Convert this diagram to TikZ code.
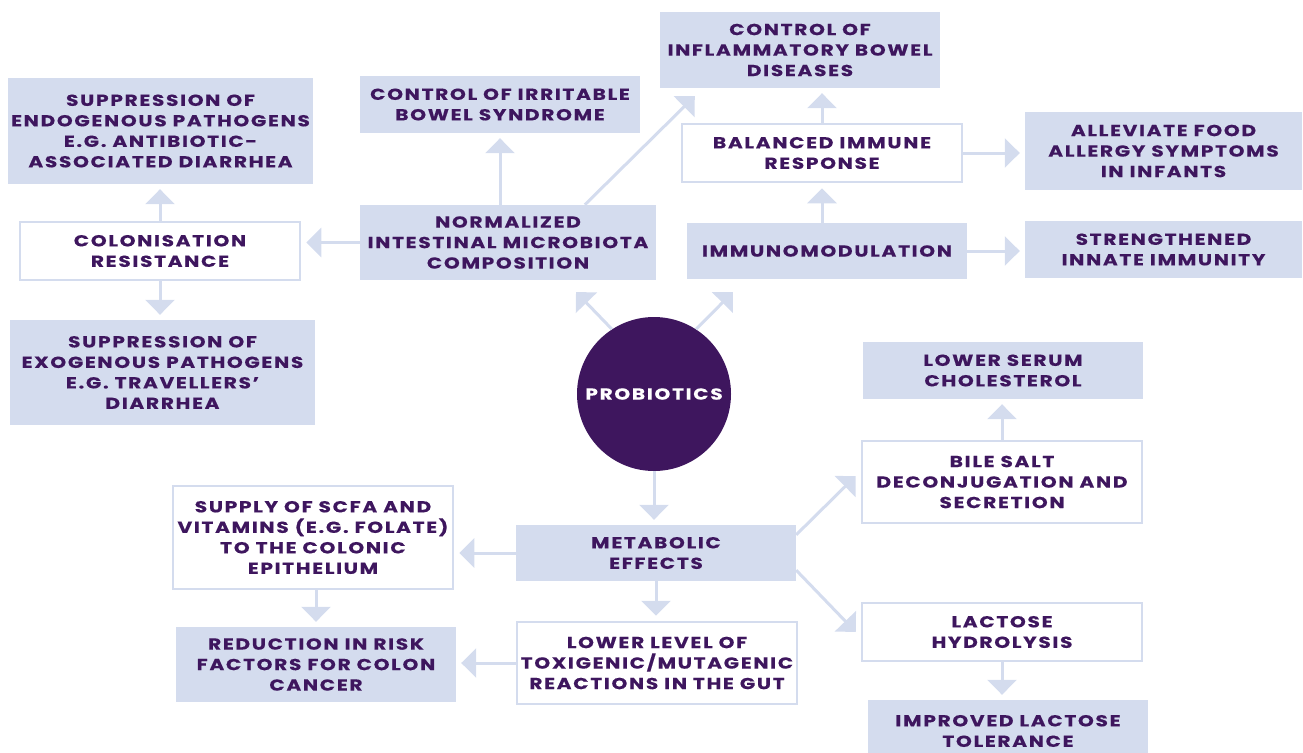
\documentclass[tikz,border=0pt]{standalone}
\usepackage{fontspec}
\setmainfont{Poppins}[LetterSpace=10.5, FakeStretch=1.26, BoldFeatures={FakeBold=0.3}]
\usetikzlibrary{positioning}
\usetikzlibrary{arrows.meta}
\usetikzlibrary{calc}
\definecolor{boxfill}{RGB}{212,220,238}
\definecolor{ink}{RGB}{62,22,94}

\begin{document}
\begin{tikzpicture}[x=1pt,y=-1pt,
    label/.style={text=ink, align=center, inner sep=0pt,
      font=\bfseries\fontsize{16}{20.5}\selectfont},
    filled/.style={label, fill=boxfill},
    open/.style={label, draw=boxfill, line width=2.5pt, fill=white},
    arr/.style={draw=boxfill, line width=3pt,
      -{Triangle[width=29pt,length=15pt]}, shorten >=5pt},
    diag/.style={arr, shorten >=0pt}]
    \useasboundingbox (0,0) rectangle (1303,752);

    % Define the boxes
    \node[filled, minimum width=305pt, minimum height=106pt] (supendo) at (160.5,131)
      {SUPPRESSION OF\\ENDOGENOUS PATHOGENS\\E.G. ANTIBIOTIC-\\ASSOCIATED DIARRHEA};
    \node[open, minimum width=280pt, minimum height=58pt] (colres) at (160,251)
      {COLONISATION\\RESISTANCE};
    \node[filled, minimum width=305pt, minimum height=105pt] (supexo) at (162.5,372.5)
      {SUPPRESSION OF\\EXOGENOUS PATHOGENS\\E.G. TRAVELLERS'\\DIARRHEA};
    \node[filled, minimum width=280pt, minimum height=57pt] (ibs) at (500,104.5)
      {CONTROL OF IRRITABLE\\BOWEL SYNDROME};
    \node[filled, minimum width=296pt, minimum height=75pt] (norm) at (508,242.5)
      {NORMALIZED\\INTESTINAL MICROBIOTA\\COMPOSITION};
    \node[filled, minimum width=280pt, minimum height=76pt] (ibd) at (800,50)
      {CONTROL OF\\INFLAMMATORY BOWEL\\DISEASES};
    \node[open, minimum width=280pt, minimum height=58pt] (balanced) at (822,153)
      {BALANCED IMMUNE\\RESPONSE};
    \node[filled, minimum width=280pt, minimum height=56pt] (immuno) at (827,251)
      {IMMUNOMODULATION};
    \node[filled, minimum width=277pt, minimum height=78pt] (allergy) at (1163.5,151)
      {ALLEVIATE FOOD\\ALLERGY SYMPTOMS\\IN INFANTS};
    \node[filled, minimum width=277pt, minimum height=57pt] (innate) at (1163.5,249.5)
      {STRENGTHENED\\INNATE IMMUNITY};
    \node[circle, fill=ink, text=white, minimum size=154pt, inner sep=0pt,
      font=\bfseries\fontsize{16}{20.5}\selectfont] (prob) at (654,394) {PROBIOTICS};
    \node[filled, minimum width=280pt, minimum height=57pt] (serum) at (1003,370.5)
      {LOWER SERUM\\CHOLESTEROL};
    \node[open, minimum width=280pt, minimum height=82pt] (bile) at (1002,482)
      {BILE SALT\\DECONJUGATION AND\\SECRETION};
    \node[filled, minimum width=280pt, minimum height=56pt] (metab) at (656,553)
      {METABOLIC\\EFFECTS};
    \node[open, minimum width=280pt, minimum height=103pt] (scfa) at (313,537.5)
      {SUPPLY OF SCFA AND\\VITAMINS (E.G. FOLATE)\\TO THE COLONIC\\EPITHELIUM};
    \node[filled, minimum width=280pt, minimum height=75pt] (reduce) at (316,664.5)
      {REDUCTION IN RISK\\FACTORS FOR COLON\\CANCER};
    \node[open, minimum width=280pt, minimum height=82pt] (lower) at (657,663)
      {LOWER LEVEL OF\\TOXIGENIC/MUTAGENIC\\REACTIONS IN THE GUT};
    \node[open, minimum width=280pt, minimum height=58pt] (lactose) at (1002,632)
      {LACTOSE\\HYDROLYSIS};
    \node[filled, minimum width=280pt, minimum height=62pt] (improved) at (1008,731)
      {IMPROVED LACTOSE\\TOLERANCE};

    % Define the coordinates of the diagonal arrows
    \coordinate (normstart) at ($(norm.north west)+(225,0)$);
    \coordinate (ibdtip) at ($(ibd.south west)+(35,8)$);
    \coordinate (normtip) at (576,292);
    \coordinate (immunotip) at (733,292);
    \coordinate (bilestart) at ($(metab.north east)+(0,10)$);
    \coordinate (biletip) at ($(bile.west)+(-5,-6)$);
    \coordinate (lacstart) at ($(metab.south east)+(0,-11)$);
    \coordinate (lactip) at ($(lactose.west)+(-5,0)$);

    % Draw the arrows
    \foreach \from/\to in {norm.west/norm.west -| colres.east,
        colres.north/colres.north |- supendo.south,
        colres.south/colres.south |- supexo.north,
        norm.north -| ibs.south/ibs.south,
        balanced.north/balanced.north |- ibd.south,
        balanced.south |- immuno.north/balanced.south,
        balanced.east/balanced.east -| allergy.west,
        immuno.east/immuno.east -| innate.west,
        prob.south/prob.south |- metab.north,
        metab.west/metab.west -| scfa.east,
        metab.south/metab.south |- lower.north,
        scfa.south -| reduce.north/reduce.north,
        lower.west/lower.west -| reduce.east,
        bile.north/bile.north |- serum.south,
        lactose.south/lactose.south |- improved.north}
      \draw[arr] (\from) -- (\to);

    \foreach \from/\to in {normstart/ibdtip, prob.123/normtip, prob.57/immunotip,
        bilestart/biletip, lacstart/lactip}
      \draw[diag] (\from) -- (\to);
\end{tikzpicture}
\end{document}
